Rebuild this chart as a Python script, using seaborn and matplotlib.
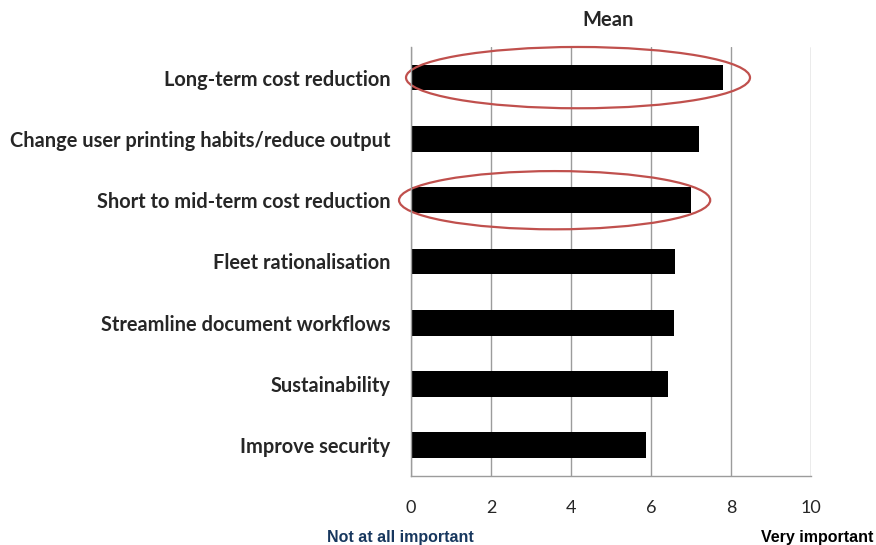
import matplotlib
matplotlib.use("Agg")
import matplotlib.pyplot as plt
from matplotlib.patches import Ellipse
import seaborn as sns
import pandas as pd
import numpy as np

# data
drivers = [
    "Long-term cost reduction",
    "Change user printing habits/reduce output",
    "Short to mid-term cost reduction",
    "Fleet rationalisation",
    "Streamline document workflows",
    "Sustainability",
    "Improve security",
]
means = [7.8, 7.2, 7.0, 6.6, 6.58, 6.43, 5.88]
x_ticks = [0, 2, 4, 6, 8, 10]

df = pd.DataFrame({"driver": drivers, "mean": means})

sns.set_style("white")
plt.rcParams["font.family"] = ["Lato", "DejaVu Sans"]

fig = plt.figure(figsize=(8.76, 5.45), dpi=100)
ax = fig.add_axes([0.4692, 0.1266, 0.4566, 0.7872])

sns.barplot(data=df, x="mean", y="driver", color="black", width=0.42,
            saturation=1, edgecolor="black", linewidth=0, ax=ax)

grey = "#9c9c9c"
ax.set_xlim(0, 10)
ax.set_ylim(6.5, -0.5)
ax.set_xticks(x_ticks)
ax.set_xticklabels([str(t) for t in x_ticks], fontsize=13)
ax.xaxis.grid(True, color=grey, linewidth=1)
ax.set_axisbelow(True)
ax.set_xlabel("")
ax.set_ylabel("")

for side in ["top", "right"]:
    ax.spines[side].set_visible(False)
for side in ["left", "bottom"]:
    ax.spines[side].set_color(grey)
    ax.spines[side].set_linewidth(1)

ax.tick_params(axis="x", length=5, color=grey, pad=12)
ax.tick_params(axis="y", which="major", length=0, pad=15)
ax.set_yticks(np.arange(-0.5, 7, 1), minor=True)
ax.tick_params(axis="y", which="minor", length=5, color=grey)
for lab in ax.get_yticklabels():
    lab.set_fontweight("bold")
    lab.set_fontsize(14.4)

# red rings around the two cost items
ring = "#c0504d"
ax.add_patch(Ellipse((4.175, 0), 8.6, 1.0, fill=False, edgecolor=ring,
                     linewidth=1.6, clip_on=False))
ax.add_patch(Ellipse((3.59, 2), 7.78, 0.95, fill=False, edgecolor=ring,
                     linewidth=1.6, clip_on=False))

fig.text(0.694, 0.963, "Mean", ha="center", va="center",
         fontsize=14.5, fontweight="bold")
fig.text(0.457, 0.014, "Not at all important", ha="center", va="center",
         fontsize=11.5, fontweight="bold", color="#17375e",
         family=["Liberation Sans", "DejaVu Sans"])
fig.text(0.869, 0.014, "Very important", ha="left", va="center",
         fontsize=11.5, fontweight="bold", color="black",
         family=["Liberation Sans", "DejaVu Sans"])

fig.savefig("out.png", dpi=100)
